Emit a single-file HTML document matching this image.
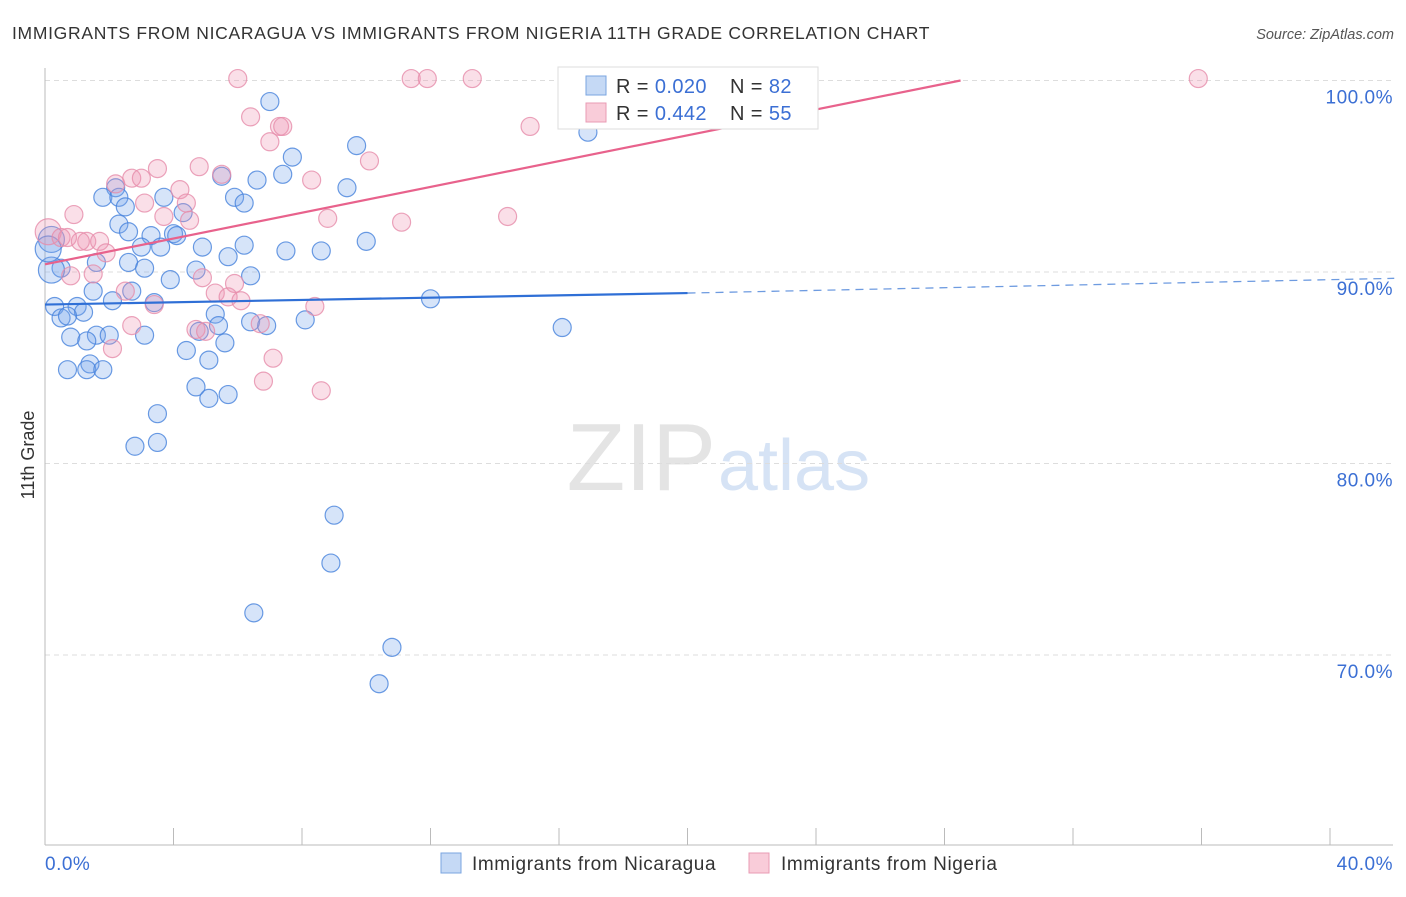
<!DOCTYPE html>
<html><head><meta charset="utf-8"><style>
body{margin:0;background:#fff;font-family:"Liberation Sans",sans-serif}
svg text{font-family:"Liberation Sans",sans-serif}
</style></head><body>
<svg id="chart" width="1406" height="892">
<text x="12" y="39" font-size="17.5" fill="#333" letter-spacing="0.7">IMMIGRANTS FROM NICARAGUA VS IMMIGRANTS FROM NIGERIA 11TH GRADE CORRELATION CHART</text>
<text x="1394" y="39" font-size="14.5" fill="#555" text-anchor="end" font-style="italic">Source: ZipAtlas.com</text>
<text x="716" y="490" font-size="96" fill="#e4e4e4" text-anchor="end" font-family="Liberation Serif">ZIP</text>
<text x="718" y="490" font-size="72" fill="#d6e3f5">atlas</text>
<text x="34" y="455" font-size="18" fill="#333" text-anchor="middle" transform="rotate(-90 34 455)">11th Grade</text>
<g id="grid"></g><g id="marks"></g><g id="lines"></g>
<g>
<rect x="558" y="67" width="260" height="62" fill="#fff" stroke="#ddd"/>
<rect x="586" y="76" width="20" height="19" fill="#c5d9f5" stroke="#7aa5e0"/>
<rect x="586" y="103" width="20" height="19" fill="#f9ccd9" stroke="#e99bb4"/>
<text x="616" y="93" font-size="20" fill="#333" letter-spacing="0.4">R = <tspan fill="#3b6fd4">0.020</tspan><tspan x="730">N = </tspan><tspan fill="#3b6fd4">82</tspan></text>
<text x="616" y="120" font-size="20" fill="#333" letter-spacing="0.4">R = <tspan fill="#3b6fd4">0.442</tspan><tspan x="730">N = </tspan><tspan fill="#3b6fd4">55</tspan></text>
</g>
<g>
<rect x="441" y="853" width="20" height="20" fill="#c5d9f5" stroke="#7aa5e0"/>
<text x="472" y="870" font-size="19" fill="#333" letter-spacing="0.6">Immigrants from Nicaragua</text>
<rect x="749" y="853" width="20" height="20" fill="#f9ccd9" stroke="#e99bb4"/>
<text x="781" y="870" font-size="19" fill="#333" letter-spacing="0.6">Immigrants from Nigeria</text>
</g>
</svg>
<script>
const yTicks=[100,90,80,70];
const xTickLabels=["0.0%","40.0%"];
const blueX=[7.0,7.7,9.7,9.4,7.4,6.6,5.5,5.9,6.2,2.2,1.8,2.3,2.5,3.7,4.3,2.3,2.6,3.3,4.0,4.1,3.0,3.6,4.9,6.2,7.5,8.6,10.0,2.6,3.1,1.6,0.5,0.2,5.7,4.7,6.4,3.9,1.5,2.7,2.1,3.4,12.0,0.3,1.0,1.2,0.5,0.7,5.3,5.4,6.4,6.9,8.1,4.8,5.6,1.6,2.0,3.1,0.8,1.3,16.1,4.4,5.1,1.4,0.7,1.3,1.8,4.7,5.1,5.7,3.5,2.8,3.5,9.0,8.9,6.5,10.8,10.4,16.9,0.2,0.1];
const blueY=[98.9,96.0,96.6,94.4,95.1,94.8,95.0,93.9,93.6,94.4,93.9,93.9,93.4,93.9,93.1,92.5,92.1,91.9,92.0,91.9,91.3,91.3,91.3,91.4,91.1,91.1,91.6,90.5,90.2,90.5,90.2,90.1,90.8,90.1,89.8,89.6,89.0,89.0,88.5,88.4,88.6,88.2,88.2,87.9,87.6,87.7,87.8,87.2,87.4,87.2,87.5,86.9,86.3,86.7,86.7,86.7,86.6,86.4,87.1,85.9,85.4,85.2,84.9,84.9,84.9,84.0,83.4,83.6,82.6,80.9,81.1,77.3,74.8,72.2,70.4,68.5,97.3,91.7,91.2];
const pinkX=[6.0,11.4,11.9,13.3,16.6,35.9,6.4,7.3,7.4,15.1,7.0,10.1,4.8,3.5,2.7,2.2,3.0,4.2,5.5,8.3,0.9,3.7,4.5,8.8,11.1,14.4,3.1,4.4,0.1,0.5,0.7,1.3,1.7,1.1,1.9,1.5,0.8,2.5,2.7,3.4,5.3,5.9,5.7,6.1,4.9,8.4,4.7,5.0,6.7,2.1,6.8,7.1,8.6];
const pinkY=[100.1,100.1,100.1,100.1,100.1,100.1,98.1,97.6,97.6,97.6,96.8,95.8,95.5,95.4,94.9,94.6,94.9,94.3,95.1,94.8,93.0,92.9,92.7,92.8,92.6,92.9,93.6,93.6,92.1,91.8,91.8,91.6,91.6,91.6,91.0,89.9,89.8,89.0,87.2,88.3,88.9,89.4,88.7,88.5,89.7,88.2,87.0,86.9,87.3,86.0,84.3,85.5,83.8];
const blueTrend=[88.3,88.9,89.6];
const pinkTrend=[90.4,100];
const pinkTrendEndX=28.5;

const NS="http://www.w3.org/2000/svg";
const sx=v=>45+v/40*1285;
const sy=v=>80.5+(100-v)*19.15;
function mk(t,a,p){const e=document.createElementNS(NS,t);for(const k in a)e.setAttribute(k,a[k]);p.appendChild(e);return e;}
const grid=document.getElementById('grid'),marks=document.getElementById('marks'),lines=document.getElementById('lines');
yTicks.forEach(v=>{
 const l=mk('line',{x1:45,x2:1393,y1:sy(v),y2:sy(v),stroke:'#ddd','stroke-dasharray':'5,4'},grid);
 
 
 const t=mk('text',{x:1393,y:sy(v)+23,'font-size':19,fill:'#3b6fd4','text-anchor':'end','letter-spacing':0.5},grid);
 t.textContent=v.toFixed(1)+'%';
 
 
});
const ax=mk('line',{x1:45,x2:45,y1:68,y2:845,stroke:'#bbb'},grid);


const bx=mk('line',{x1:45,x2:1393,y1:845,y2:845,stroke:'#bbb'},grid);


for(let i=0;i<=10;i++){
 const tk=mk('line',{x1:sx(i*4),x2:sx(i*4),y1:828,y2:845,stroke:'#bbb'},grid);
 
 
}
xTickLabels.forEach((s,i)=>{
 const t=mk('text',{x:i?1393:45,y:870,'font-size':19,fill:'#3b6fd4','text-anchor':i?'end':'start','letter-spacing':0.5},grid);
 t.textContent=s;
 
 
});
function dots(X,Y,fill,stroke,name){
 X.forEach((x,i)=>{
  const big=(x<0.3&&Y[i]>90&&Y[i]<92.2);
  const c=mk('circle',{cx:sx(x),cy:sy(Y[i]),r:big?13:9,fill:fill,stroke:stroke,'stroke-width':1.2},marks);
  
  
 });
}
dots(blueX,blueY,'rgba(120,165,235,0.3)','rgba(70,130,220,0.8)','nicaragua-point');
dots(pinkX,pinkY,'rgba(240,150,180,0.3)','rgba(230,140,170,0.8)','nigeria-point');
const b1=mk('line',{x1:sx(0),y1:sy(blueTrend[0]),x2:sx(20),y2:sy(blueTrend[1]),stroke:'#2f6fd6','stroke-width':2.2},lines);


const b2=mk('line',{x1:sx(20),y1:sy(blueTrend[1]),x2:sx(42),y2:sy(blueTrend[1]+(blueTrend[2]-blueTrend[1])*1.1),stroke:'#6e9be0','stroke-width':1.3,'stroke-dasharray':'8,6'},lines);


const p1=mk('line',{x1:sx(0),y1:sy(pinkTrend[0]),x2:sx(pinkTrendEndX),y2:sy(pinkTrend[1]),stroke:'#e8628c','stroke-width':2.2},lines);


</script>
</body></html>
